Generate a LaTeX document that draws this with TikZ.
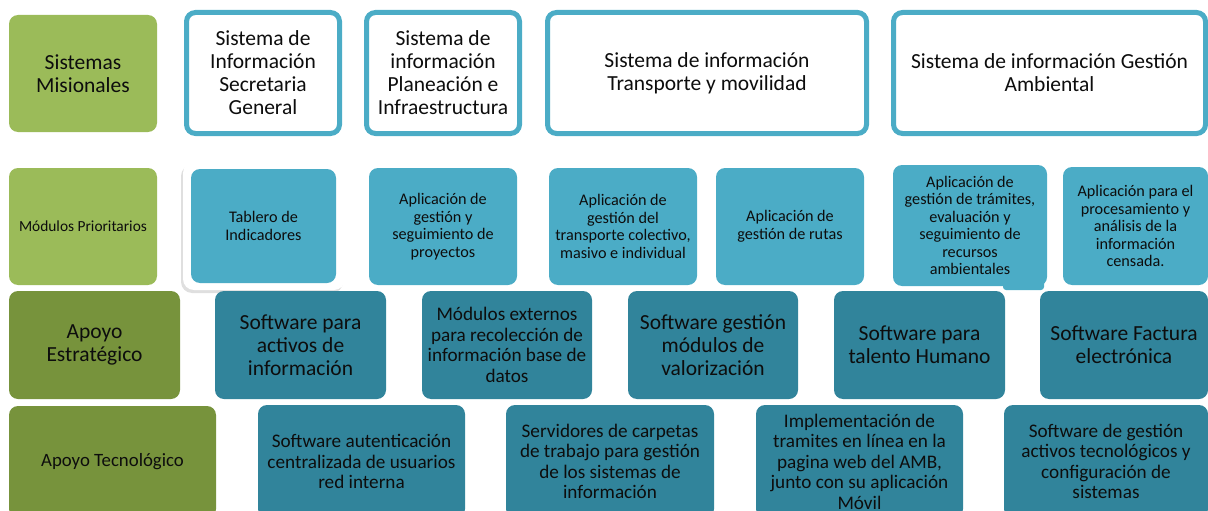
\documentclass[tikz,border=0pt]{standalone}
\usepackage{fontspec}
\setmainfont{Carlito}
\usetikzlibrary{shadows}
\definecolor{lgreen}{HTML}{9BBB59}
\definecolor{dgreen}{HTML}{77933C}
\definecolor{lblue}{HTML}{4BACC6}
\definecolor{dteal}{HTML}{31849B}
\definecolor{txt}{HTML}{0D0D0D}
\newcommand\fbig{\fontsize{21.5}{23}\selectfont}
\newcommand\fmid{\fontsize{19.2}{20.5}\selectfont}
\newcommand\fsmall{\fontsize{16.2}{17.5}\selectfont}
\newcommand\bx[7]{\node[#1, minimum width={#5-#3}, minimum height={#6-#4}] (#2) at ({(#3+#5)/2},{(#4+#6)/2}) {#7};}
\tikzset{
  box/.style={rectangle, rounded corners=9pt, align=center, text=txt, inner sep=0pt, outer sep=0pt},
  sysbox/.style={box, draw=lblue, line width=5pt, fill=white, font=\fbig},
  catlight/.style={box, fill=lgreen, font=\fbig},
  catdark/.style={box, fill=dgreen, font=\fbig},
  modbox/.style={box, fill=lblue, font=\fsmall},
  supbox/.style={box, fill=dteal, font=\fbig},
  frame/.style={box, rounded corners=11pt, fill=white, drop shadow={shadow xshift=-2pt, shadow yshift=-3pt, opacity=0.25}},
}
\begin{document}
\begin{tikzpicture}[x=1pt,y=-1pt]
\useasboundingbox (0,0) rectangle (1208,511);
% Row 1
\bx{catlight}{sm}{9}{15}{157}{132}{Sistemas\\Misionales}
\bx{sysbox}{sg}{186.5}{12.5}{339.5}{133.5}{Sistema de\\Información\\Secretaria\\General}
\bx{sysbox}{pi}{366.5}{12.5}{519.5}{133.5}{Sistema de\\información\\Planeación e\\Infraestructura}
\bx{sysbox}{tm}{547.5}{12.5}{866.5}{133.5}{Sistema de información\\Transporte y movilidad}
\bx{sysbox}{ga}{893.5}{12.5}{1205.5}{133.5}{Sistema de información Gestión\\Ambiental}
% Row 2
\bx{catlight, font=\fontsize{15.4}{17.5}\selectfont}{mp}{9}{168}{157}{285}{Módulos Prioritarios}
\bx{frame}{tf}{183}{162}{345}{290}{}
\bx{modbox}{ti}{191}{169}{336}{283}{Tablero de\\Indicadores}
\bx{modbox}{ags}{369}{168}{517}{285}{Aplicación de\\gestión y\\seguimiento de\\proyectos}
\bx{modbox}{atc}{549}{168}{697}{285}{Aplicación de\\gestión del\\transporte colectivo,\\masivo e individual}
\bx{modbox}{agr}{716}{168}{864}{285}{Aplicación de\\gestión de rutas}
\fill[lblue, rounded corners=3pt] (1003,278) rectangle (1044,290);
\bx{modbox}{atr}{893}{165}{1047}{286}{Aplicación de\\gestión de trámites,\\evaluación y\\seguimiento de\\recursos\\ambientales}
\bx{modbox}{apr}{1063}{167}{1208}{285}{Aplicación para el\\procesamiento y\\análisis de la\\información\\censada.}
% Row 3
\bx{catdark}{ae}{9}{291}{180}{399}{Apoyo\\Estratégico}
\bx{supbox}{sai}{215}{291}{386}{399}{Software para\\activos de\\información}
\bx{supbox, font=\fmid}{mex}{422}{291}{592}{399}{Módulos externos\\para recolección de\\información base de\\datos}
\bx{supbox}{sgv}{628}{291}{798}{399}{Software gestión\\módulos de\\valorización}
\bx{supbox}{sth}{834}{291}{1005}{399}{Software para\\talento Humano}
\bx{supbox}{sfe}{1040}{291}{1208}{399}{Software Factura\\electrónica}
% Row 4
\bx{catdark, font=\fontsize{18.8}{20}\selectfont}{at}{9}{406}{216}{518}{Apoyo Tecnológico}
\bx{supbox, font=\fmid}{sac}{258}{405}{465}{518}{Software autenticación\\centralizada de usuarios\\red interna}
\bx{supbox, font=\fmid}{sct}{506}{405}{714}{518}{Servidores de carpetas\\de trabajo para gestión\\de los sistemas de\\información}
\bx{supbox, font=\fmid}{imp}{756}{405}{963}{518}{Implementación de\\tramites en línea en la\\pagina web del AMB,\\junto con su aplicación\\Móvil}
\bx{supbox, font=\fmid}{sga}{1004}{405}{1208}{518}{Software de gestión\\activos tecnológicos y\\configuración de\\sistemas}
\end{tikzpicture}
\end{document}
